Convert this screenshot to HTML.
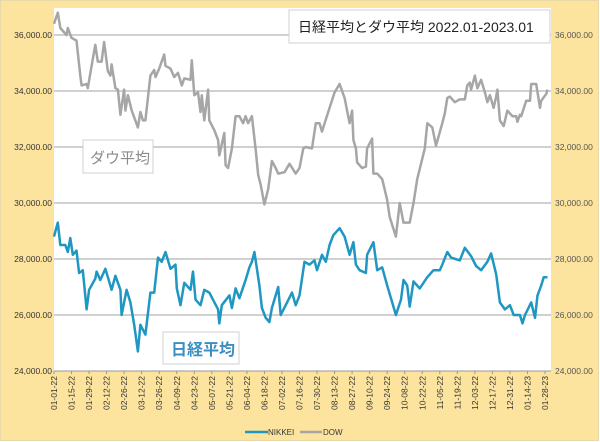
<!DOCTYPE html>
<html><head><meta charset="utf-8"><style>
body{margin:0;background:#fff;}
svg{display:block;font-family:"Liberation Sans","Noto Sans CJK JP",sans-serif;}
</style></head><body>
<svg id="chart" width="600" height="442" viewBox="0 0 600 442">
<rect x="0.5" y="0.5" width="598" height="440" fill="#fde49e" stroke="#e8d9a8"/>
<rect x="54" y="8" width="497" height="363" fill="#fff"/>
<g id="grid"></g>
<g id="axes"></g>
<g id="series"></g>
<g>
<rect x="83" y="140" width="70" height="33" fill="#fff" stroke="#d0d0d0"/>
<text x="90" y="163" font-size="15" fill="#8a8a8a">ダウ平均</text></g>
<g>
<rect x="163" y="332" width="76" height="32" fill="#fff" stroke="#d0d0d0"/>
<text x="171" y="355" font-size="16" font-weight="bold" fill="#3b8fc0">日経平均</text></g>
<g>
<rect x="289" y="10" width="261" height="33" fill="#fff" stroke="#d0d0d0"/>
<text x="298" y="32" font-size="14" fill="#222">日経平均とダウ平均 2022.01-2023.01</text></g>
<g>
<line x1="245" y1="432" x2="268" y2="432" stroke="#1f97c2" stroke-width="2.5"/>
<text x="268" y="435" font-size="8" fill="#333">NIKKEI</text>
<line x1="300" y1="432" x2="322" y2="432" stroke="#a6a6a6" stroke-width="2.5"/>
<text x="323" y="435" font-size="8" fill="#333">DOW</text></g>
</svg>
<script>
const yTicks=[24000,26000,28000,30000,32000,34000,36000];
const xTickLabels=["01-01-22","01-15-22","01-29-22","02-12-22","02-26-22","03-12-22","03-26-22","04-09-22","04-23-22","05-07-22","05-21-22","06-04-22","06-18-22","07-02-22","07-16-22","07-30-22","08-13-22","08-27-22","09-10-22","09-24-22","10-08-22","10-22-22","11-05-22","11-19-22","12-03-22","12-17-22","12-31-22","01-14-23","01-28-23"];
const nikkeiDays=[0,3,5,9,11,13,15,18,20,23,26,28,33,34,37,41,46,49,53,54,58,61,64,67,69,73,77,80,83,86,89,93,97,98,101,104,109,111,113,117,120,124,131,132,134,140,142,145,148,153,156,158,160,164,166,169,172,174,179,181,185,190,193,196,200,204,208,210,214,217,220,223,228,232,236,239,241,244,249,250,255,258,262,266,270,273,277,279,282,284,287,292,298,303,308,310,314,317,324,328,333,337,341,346,349,353,356,360,364,367,372,374,376,381,384,386,389,391,394];
const nikkeiValues=[28800,29300,28500,28500,28250,28750,28150,28300,27500,27600,26200,26900,27300,27550,27250,27650,26900,27400,26900,26000,26900,26450,25650,24700,25650,25300,26800,26800,28050,27900,28250,27650,27800,26950,26350,27150,26900,27550,26550,26350,26900,26800,26200,25700,26350,26700,26250,26950,26600,27250,27700,27900,28250,27050,26250,25900,25750,26250,27000,26000,26350,26800,26350,26700,27900,27800,27950,27600,28150,27900,28500,28850,29100,28800,28150,28600,27800,27600,27500,28150,28600,27600,27700,27050,26450,26000,26550,27250,27050,26300,27200,26950,27350,27600,27600,27800,28250,28050,27950,28400,28100,27750,27600,27900,28200,27450,26450,26200,26350,26000,26000,25700,26000,26450,25900,26700,27050,27350,27350];
const dowDays=[0,3,5,10,11,14,18,21,22,26,27,30,33,35,38,40,43,45,46,49,51,53,56,57,59,62,67,69,71,73,77,80,81,84,88,89,93,96,99,102,104,109,110,112,115,117,118,120,123,124,128,131,132,136,137,139,142,145,148,151,153,155,158,161,163,165,168,171,174,177,179,184,188,193,196,199,201,206,209,212,214,216,220,224,228,232,236,238,239,241,242,246,249,250,254,255,258,262,265,266,268,273,276,279,284,287,290,296,298,302,305,310,312,314,316,320,324,328,330,332,333,336,338,341,344,346,348,351,353,354,356,359,362,366,369,370,372,373,377,380,381,385,388,389,393,394];
const dowValues=[36400,36800,36250,36000,36250,35900,35800,34550,34200,34250,34100,34900,35650,35050,35050,35750,34700,34550,34950,34100,34050,33150,34050,33300,33850,33300,32700,33250,32950,32950,34550,34750,34500,34800,35300,34900,34800,34500,34650,34200,34450,34400,35100,33850,33950,33250,33850,32950,34050,32950,32600,32250,31700,32500,31350,31250,31950,33100,33100,32850,33100,32850,33100,31900,31000,30650,29950,30500,31500,31250,31050,31100,31400,31050,31250,31950,32000,31950,32850,32850,32550,32850,33400,33950,34250,33750,32850,33300,32250,31950,31450,31250,31300,31950,32300,31050,31050,30850,30300,30100,29500,28800,30000,29300,29300,30000,30850,31950,32850,32700,32050,32850,33200,33750,33800,33600,33700,33700,34200,34300,34050,34550,34100,34400,33950,33600,33850,33400,33800,34050,32950,32750,33300,33100,33100,32900,33150,33100,33650,33650,34250,34250,33400,33650,33900,34050];

const NS="http://www.w3.org/2000/svg";
const X0=54,X1=545,totalDays=392;
const xScale=d=>X0+(X1-X0)*d/totalDays;
const yScale=v=>371-(v-24000)/2000*56;
function mk(tag,attrs,parent){const e=document.createElementNS(NS,tag);for(const k in attrs)e.setAttribute(k,attrs[k]);parent.appendChild(e);return e;}
const grid=document.getElementById('grid'),axes=document.getElementById('axes'),series=document.getElementById('series');
yTicks.forEach(v=>{
  const y=yScale(v);
  if(v>24000){const g=mk('line',{x1:54,x2:551,y1:y,y2:y,stroke:'#b5b5b5','stroke-width':1.2},grid);
  
  }
  const s=v.toLocaleString('en-US')+'.00';
  const l=mk('text',{x:52,y:y+3,'font-size':8.5,'text-anchor':'end',fill:'#333'},axes);l.textContent=s;
  
  
  const r=mk('text',{x:555,y:y+3,'font-size':8.5,fill:'#555'},axes);r.textContent=s;
  
  
});
const ax=mk('line',{x1:54,x2:551,y1:371,y2:371,stroke:'#999'},axes);


xTickLabels.forEach((t,i)=>{
  const x=xScale(i*14);
  mk('line',{x1:x,x2:x,y1:371,y2:374,stroke:'#999'},axes);
  const tx=mk('text',{x:0,y:0,'font-size':8.5,'text-anchor':'end',fill:'#333',transform:`translate(${x+3},376) rotate(-90)`},axes);
  tx.textContent=t;
  
  
});
function line(days,vals,color,name){
  const n=Math.min(days.length,vals.length);let d='';
  for(let i=0;i<n;i++)d+=(i?'L':'M')+xScale(days[i]).toFixed(1)+','+yScale(vals[i]).toFixed(1);
  const p=mk('path',{d:d,fill:'none',stroke:color,'stroke-width':2.5,'stroke-linejoin':'round'},series);
  
  
}
line(dowDays,dowValues,'#a6a6a6','dow-line');
line(nikkeiDays,nikkeiValues,'#1f97c2','nikkei-line');
</script>
</body></html>
